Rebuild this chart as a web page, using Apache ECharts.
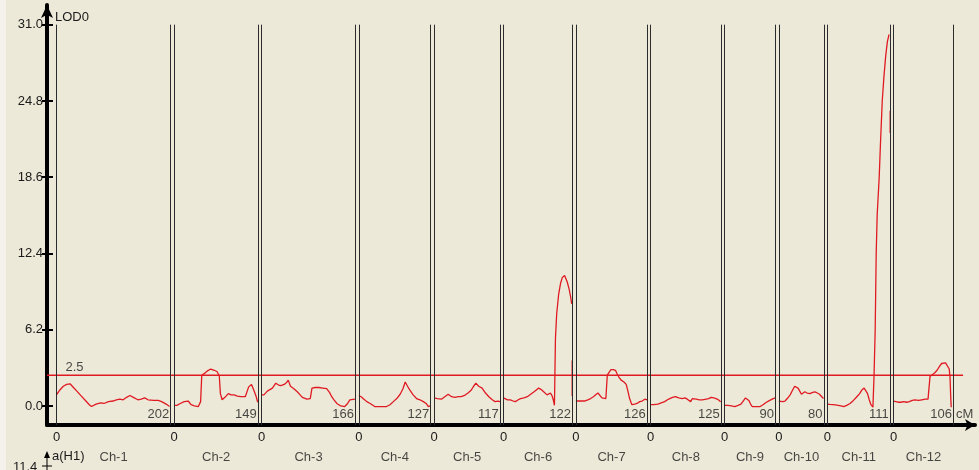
<!DOCTYPE html>
<html>
<head>
<meta charset="utf-8">
<title>LOD</title>
<script src="https://cdn.jsdelivr.net/npm/echarts@6/dist/echarts.min.js"></script>
<style>
html, body { margin: 0; padding: 0; background: #ECE9D8; }
#main { width: 979px; height: 470px; }
</style>
</head>
<body>
<div id="main"></div>
<script>
// 染色体及长度 (cM)
var chrNames = ['Ch-1', 'Ch-2', 'Ch-3', 'Ch-4', 'Ch-5', 'Ch-6', 'Ch-7', 'Ch-8', 'Ch-9', 'Ch-10', 'Ch-11', 'Ch-12'];
var chrLengths = [202, 149, 166, 127, 117, 122, 126, 125, 90, 80, 111, 106];
var yTicks = [0, 6.2, 12.4, 18.6, 24.8, 31.0];
var threshold = 2.5;

// LOD 曲线 [cM, LOD], null = 断开
var lodCh1 = [[0,0.9],[6,1.3],[12,1.6],[18,1.75],[24,1.8],[30,1.5],[36,1.2],[44,0.8],[52,0.4],[58,0.1],[62,-0.05],[70,0.15],[78,0.25],[84,0.2],[92,0.35],[100,0.4],[106,0.5],[112,0.55],[118,0.5],[124,0.7],[130,0.85],[136,0.7],[144,0.5],[150,0.55],[156,0.65],[162,0.5],[172,0.45],[180,0.45],[186,0.35],[194,0.15],[200,-0.05]];
var lodCh2 = [[0,0.05],[5,0.05],[11,0.2],[18,0.35],[25,0.4],[30,0.1],[36,0.0],[43,-0.05],[47,0.35],[49,2.5],[54,2.65],[59,2.85],[65,3.0],[71,2.9],[76,2.8],[80,2.45],[82,1.0],[85,0.5],[90,0.7],[96,1.0],[101,0.9],[106,0.9],[112,0.8],[118,0.75],[126,0.75],[132,1.55],[137,1.75],[141,1.3],[145,0.8],[148,0.3]];
var lodCh3 = [[0,0.9],[4,0.9],[10,1.2],[19,1.45],[25,1.85],[30,1.7],[34,1.65],[40,1.75],[44,1.9],[47,2.1],[51,1.6],[57,1.4],[63,1.15],[68,0.9],[72,0.7],[80,0.55],[86,0.6],[89,1.45],[95,1.5],[101,1.5],[108,1.45],[115,1.4],[120,1.1],[124,0.75],[128,0.5],[133,0.2],[140,0.0],[147,-0.05],[152,0.2],[156,0.5],[165,0.55]];
var lodCh4 = [[0,0.85],[4,0.75],[9,0.55],[14,0.35],[20,0.2],[28,-0.05],[38,-0.05],[49,-0.05],[55,0.1],[61,0.35],[67,0.6],[73,0.95],[78,1.4],[82,1.95],[86,1.6],[90,1.3],[96,0.9],[102,0.6],[108,0.5],[114,0.35],[119,0.2],[123,-0.05],[126,0.0]];
var lodCh5 = [[0,0.65],[6,0.6],[13,0.55],[19,0.75],[25,0.95],[31,0.75],[37,0.7],[43,0.75],[48,0.75],[54,0.85],[60,1.05],[66,1.3],[70,1.6],[74,1.85],[79,1.6],[85,1.45],[91,1.05],[97,0.75],[103,0.5],[108,0.35],[113,0.4],[117,0.35]];
var lodCh6 = [[0,0.65],[2,0.6],[7,0.5],[12,0.5],[17,0.4],[21,0.35],[26,0.5],[30,0.6],[36,0.65],[42,0.75],[48,0.95],[54,1.15],[58,1.3],[62,1.45],[66,1.35],[71,1.15],[74,1.0],[77,0.9],[80,0.95],[83,1.05],[86,0.8],[88,0.5],[90,0.05],[91,0.1],[91.8,5.5],[94,7.5],[97.5,9.1],[101,10.0],[104,10.45],[108,10.6],[112.5,10.1],[116,9.5],[118.5,8.9],[120.5,8.3],
  null, [121.4,3.7],[121.4,0.8]];
var lodCh7 = [[0,0.4],[3,0.35],[9,0.4],[15,0.4],[21,0.5],[26,0.6],[31,0.75],[35,0.9],[39,1.05],[42,0.9],[46,0.65],[53,0.6],[55.5,2.5],[59,2.75],[62,2.95],[66,2.95],[70,2.9],[73,2.6],[76,2.35],[80,2.1],[85,1.95],[89,1.75],[92,1.2],[95,0.6],[99,0.1],[104,0.15],[108,0.2],[113,0.35],[117,0.4],[122,0.55],[126,0.5]];
var lodCh8 = [[0,0.1],[6,0.1],[13,0.15],[19,0.25],[25,0.35],[30,0.5],[34,0.6],[39,0.7],[44,0.75],[50,0.65],[56,0.6],[61,0.65],[65,0.55],[68,0.45],[71,0.35],[74,0.6],[77,0.7],[81,0.55],[86,0.5],[92,0.5],[98,0.55],[103,0.6],[107,0.7],[112,0.65],[116,0.6],[120,0.5],[124,0.35]];
var lodCh9 = [[0,0.05],[6,0.05],[12,0.0],[18,-0.05],[24,0.05],[29,0.15],[33,0.4],[37,0.65],[40,0.55],[43,0.45],[46,0.15],[49,-0.05],[56,-0.05],[63,-0.05],[68,0.1],[74,0.3],[80,0.45],[86,0.6],[90,0.65]];
var lodCh10 = [[0,0.4],[3,0.35],[7,0.35],[11,0.4],[15,0.6],[20,0.9],[24,1.25],[28,1.6],[31,1.5],[34,1.45],[37,1.2],[40,0.95],[43,1.1],[46,1.15],[50,1.05],[55,1.0],[60,1.1],[64,1.15],[68,1.05],[72,0.95],[76,0.75],[79,0.6]];
var lodCh11 = [[0,0.15],[4,0.12],[9,0.1],[14,0.08],[19,0.05],[24,0.0],[29,-0.05],[34,0.05],[40,0.2],[46,0.45],[52,0.75],[57,1.0],[61,1.3],[65,1.45],[68,1.3],[71,1.0],[74,0.5],[77,0.1],[80.5,-0.1],[82.5,2.5],[84.5,6.2],[86.3,12.4],[88,15.5],[91.6,18.6],[94,21.5],[97,24.8],[100,26.8],[103,28.4],[106,29.6],[109,30.2],
  null, [111,24.0],[111,22.2]];
var lodCh12 = [[0,0.4],[3,0.35],[8,0.3],[13,0.3],[18,0.35],[23,0.3],[28,0.35],[33,0.45],[38,0.5],[44,0.45],[50,0.5],[56,0.55],[61,0.55],[63,0.6],[64.5,2.4],[68,2.55],[73,2.7],[77,2.9],[81,3.2],[85,3.45],[88.5,3.6],[92,3.5],[95,3.35],[98.5,3.0],[100,2.3],[101,0.9],[102,-0.1]];
var lodByChr = [lodCh1, lodCh2, lodCh3, lodCh4, lodCh5, lodCh6, lodCh7, lodCh8, lodCh9, lodCh10, lodCh11, lodCh12];

var GAP = 6;                  // 染色体间隔
var X_MIN = -16.8, X_MAX = 1625.1;
var Y_MIN = -1.55, Y_MAX = 32.6;
var GRID = { left: 47, right: 4, top: 5, bottom: 45 };
var PX_PER_CM = (979 - GRID.left - GRID.right) / (X_MAX - X_MIN);
var RED = '#e01a22';
var TXT = '#1a1a1a';
var FONT = 'Liberation Sans';

var chrOffsets = [], total = 0, i;
for (i = 0; i < chrLengths.length; i++) {
	chrOffsets.push(total);
	total += chrLengths[i] + GAP;
}
var genomeEnd = chrOffsets[11] + chrLengths[11];

// 曲线分段
var series = [];
for (i = 0; i < lodByChr.length; i++) {
	var seg = [];
	for (var j = 0; j < lodByChr[i].length; j++) {
		var p = lodByChr[i][j];
		if (p === null) {
			if (seg.length) series.push(seg);
			seg = [];
		} else {
			seg.push([chrOffsets[i] + p[0], p[1]]);
		}
	}
	if (seg.length) series.push(seg);
}
series = series.map(function (d) {
	return {
		type: 'line', data: d, symbol: 'none', silent: true, animation: false, z: 4,
		lineStyle: { color: RED, width: 1.3 }
	};
});

// 染色体边界线
var boundLines = [];
for (i = 0; i < chrLengths.length; i++) {
	[chrOffsets[i], chrOffsets[i] + chrLengths[i]].forEach(function (x) {
		boundLines.push([
			{ coord: [x, Y_MIN], lineStyle: { color: '#2b2b2b', width: 1, type: 'solid' } },
			{ coord: [x, yTicks[yTicks.length - 1]] }
		]);
	});
}
// y轴刻度伸入图内的一段
var innerTicks = yTicks.map(function (t) {
	return [
		{ coord: [X_MIN, t], lineStyle: { color: '#000', width: 2, type: 'solid' } },
		{ coord: [X_MIN + 6 / PX_PER_CM, t] }
	];
});

// 文字标注: 长度, cM, 阈值, 染色体名
var noteData = chrLengths.map(function (len, k) {
	return { value: [chrOffsets[k] + len, -0.73], name: String(len) };
});
noteData.push({ value: [genomeEnd, -0.73], name: 'cM', label: { position: 'right', distance: 2 } });
noteData.push({ value: [X_MIN, threshold], name: String(threshold), label: { position: [19, -14] } });
chrNames.forEach(function (nm, k) {
	noteData.push({ value: [chrOffsets[k] + chrLengths[k] / 2, Y_MIN], name: nm, label: { position: 'bottom', distance: 25 } });
});

series.push({
	type: 'scatter', data: noteData, symbolSize: 1, silent: true, animation: false, z: 2,
	itemStyle: { color: 'transparent' },
	label: {
		show: true, position: 'left', distance: 1, color: TXT, fontSize: 13, fontFamily: FONT,
		formatter: function (prm) { return prm.name; }
	},
	markLine: {
		silent: true, symbol: 'none', animation: false,
		label: { show: false },
		lineStyle: { color: '#2b2b2b', width: 1, type: 'solid' },
		data: boundLines.concat(innerTicks)
	}
});
// 阈值线
series.push({
	type: 'line',
	data: [[X_MIN, threshold], [genomeEnd + 17, threshold]],
	symbol: 'none', silent: true, animation: false, z: 3,
	lineStyle: { color: RED, width: 1.4 }
});

var option = {
	backgroundColor: '#ECE9D8',
	textStyle: { fontFamily: FONT },
	grid: GRID,
	xAxis: {
		type: 'value', min: X_MIN, max: X_MAX, position: 'bottom',
		axisLine: { show: true, onZero: false, symbol: ['none', 'arrow'], symbolSize: [9, 10], lineStyle: { color: '#000', width: 4 } },
		axisTick: { show: false },
		splitLine: { show: false },
		axisLabel: {
			customValues: chrOffsets, margin: 6, color: TXT, fontSize: 13, fontFamily: FONT,
			formatter: function () { return '0'; }
		}
	},
	yAxis: {
		type: 'value', min: Y_MIN, max: Y_MAX, position: 'left',
		axisLine: { show: true, onZero: false, symbol: ['none', 'arrow'], symbolSize: [9, 13], lineStyle: { color: '#000', width: 4 } },
		axisTick: { show: true, customValues: yTicks, length: 5, lineStyle: { color: '#000', width: 2 } },
		splitLine: { show: false },
		axisLabel: {
			customValues: yTicks, margin: 4, color: TXT, fontSize: 13, fontFamily: FONT,
			formatter: function (v) { return v.toFixed(1); }
		}
	},
	graphic: [
		{ type: 'rect', left: 0, top: 0, shape: { width: 6, height: 470 }, style: { fill: '#F4F2EA' }, silent: true },
		{ type: 'text', left: 55, top: 11, style: { text: 'LOD0', fill: TXT, font: '13px ' + FONT } },
		{ type: 'text', left: 52, top: 450, style: { text: 'a(H1)', fill: TXT, font: '13px ' + FONT } },
		{ type: 'text', left: 13, top: 461, style: { text: '11.4', fill: TXT, font: '13px ' + FONT } },
		{ type: 'line', shape: { x1: 47, y1: 455, x2: 47, y2: 470 }, style: { stroke: '#000', lineWidth: 1 } },
		{ type: 'line', shape: { x1: 42, y1: 466, x2: 52, y2: 466 }, style: { stroke: '#000', lineWidth: 1 } },
		{ type: 'polygon', shape: { points: [[47, 451], [44, 458], [50, 458]] }, style: { fill: '#000' } }
	],
	series: series
};

var myChart = echarts.init(document.getElementById('main'));
myChart.setOption(option);
</script>
</body>
</html>
